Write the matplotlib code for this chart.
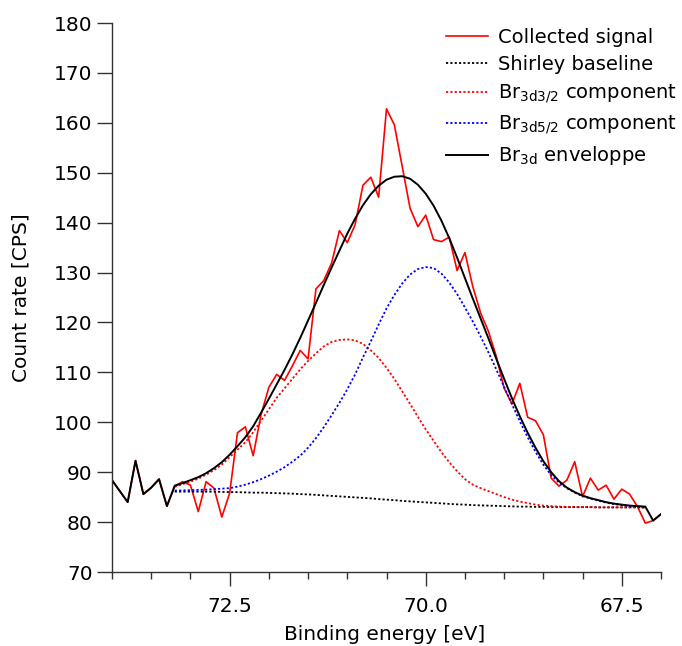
import numpy as np
import matplotlib
matplotlib.use("Agg")
import matplotlib.pyplot as plt
from matplotlib.ticker import FixedLocator, MultipleLocator, FormatStrFormatter

# Binding energy grid of the measured spectrum (eV), 74.0 -> 67.0
energy = [74.0, 73.9, 73.8, 73.7, 73.6, 73.5, 73.4, 73.3, 73.2, 73.1,
          73.0, 72.9, 72.8, 72.7, 72.6, 72.5, 72.4, 72.3, 72.2, 72.1,
          72.0, 71.9, 71.8, 71.7, 71.6, 71.5, 71.4, 71.3, 71.2, 71.1,
          71.0, 70.9, 70.8, 70.7, 70.6, 70.5, 70.4, 70.3, 70.2, 70.1,
          70.0, 69.9, 69.8, 69.7, 69.6, 69.5, 69.4, 69.3, 69.2, 69.1,
          69.0, 68.9, 68.8, 68.7, 68.6, 68.5, 68.4, 68.3, 68.2, 68.1,
          68.0, 67.9, 67.8, 67.7, 67.6, 67.5, 67.4, 67.3, 67.2, 67.1,
          67.0]

signal = [88.4, 86.2, 84.0, 92.3, 85.6, 86.9, 88.6, 83.2, 87.2, 88.1,
          87.4, 82.1, 88.1, 86.8, 81.0, 85.8, 97.9, 99.1, 93.3, 101.5,
          107.0, 109.6, 108.4, 111.3, 114.4, 112.7, 126.7, 128.4, 131.9, 138.4,
          136.0, 139.6, 147.5, 149.1, 145.1, 162.8, 159.6, 151.3, 142.9, 139.2,
          141.5, 136.6, 136.2, 137.1, 130.4, 134.0, 127.2, 121.9, 118.2, 113.2,
          106.8, 103.7, 107.8, 101.0, 100.3, 97.5, 88.8, 87.2, 88.4, 92.1,
          85.1, 88.8, 86.4, 87.4, 84.6, 86.6, 85.6, 83.1, 79.8, 80.3,
          81.6]

# Fit region 73.2 -> 67.2 eV
fit_energy = energy[8:69]

shirley = [86.1, 86.1, 86.1, 86.1, 86.1, 86.1, 86.05, 86.0, 86.0, 85.95,
           85.9, 85.9, 85.85, 85.8, 85.75, 85.7, 85.6, 85.55, 85.45, 85.35,
           85.25, 85.15, 85.05, 84.95, 84.85, 84.75, 84.6, 84.5, 84.4, 84.25,
           84.15, 84.05, 83.95, 83.85, 83.75, 83.65, 83.55, 83.5, 83.4, 83.35,
           83.3, 83.25, 83.2, 83.15, 83.1, 83.1, 83.05, 83.05, 83.0, 83.0,
           83.0, 83.0, 83.0, 83.0, 82.95, 82.95, 82.95, 82.95, 82.95, 82.95,
           82.9]

br_32 = [87.1, 87.6, 88.1, 88.7, 89.5, 90.4, 91.5, 93.0, 94.5, 96.0,
         98.0, 100.3, 102.6, 104.9, 106.8, 108.7, 110.6, 112.3, 113.8, 115.2,
         116.1, 116.5, 116.6, 116.4, 115.7, 114.4, 112.9, 110.9, 108.7, 106.2,
         103.7, 101.1, 98.6, 96.3, 94.0, 92.0, 90.2, 88.6, 87.5, 86.8,
         86.2, 85.6, 85.0, 84.5, 84.1, 83.8, 83.5, 83.3, 83.2, 83.1,
         83.05, 83.0, 83.0, 83.0, 82.95, 82.95, 82.95, 82.95, 82.95, 82.95,
         82.9]

br_52 = [86.3, 86.35, 86.4, 86.45, 86.5, 86.6, 86.7, 86.8, 87.1, 87.5,
         88.0, 88.6, 89.3, 90.1, 91.0, 92.1, 93.3, 94.9, 96.8, 99.0,
         101.4, 103.9, 106.6, 109.6, 113.0, 116.2, 119.6, 122.8, 125.5, 127.8,
         129.6, 130.7, 131.1, 130.9, 129.8, 128.0, 125.7, 123.0, 120.2, 117.2,
         114.0, 110.6, 107.1, 103.6, 100.2, 97.0, 94.1, 91.5, 89.4, 87.9,
         86.8, 85.9, 85.2, 84.7, 84.3, 83.9, 83.6, 83.4, 83.25, 83.1,
         83.0]

envelope_fit = [87.3, 87.8, 88.4, 89.0, 89.8, 90.8, 92.0, 93.5, 95.2, 97.0,
                99.2, 101.9, 104.7, 107.6, 110.5, 113.6, 116.9, 120.4, 123.9, 127.5,
                131.0, 134.4, 137.8, 140.8, 143.5, 145.7, 147.4, 148.6, 149.2, 149.3,
                148.8, 147.6, 145.8, 143.4, 140.4, 136.9, 133.0, 128.9, 124.8, 120.8,
                116.8, 112.7, 108.7, 104.8, 101.2, 97.9, 94.9, 92.2, 90.0, 88.2,
                86.9, 86.0, 85.3, 84.8, 84.4, 84.0, 83.7, 83.5, 83.3, 83.2,
                83.1]

# outside the fit window the envelope trace follows the raw data
env_energy = energy[:8] + fit_energy + energy[69:]
env_counts = signal[:8] + envelope_fit + signal[69:]

plt.rcParams['font.family'] = ['DejaVu Sans']

fig = plt.figure(figsize=(6.82, 6.46), dpi=100)
ax = fig.add_axes([112 / 682, 1 - 572 / 646, 549 / 682, 549 / 646])

dots = (0, (1.2, 1.2))
ax.plot(energy, signal, color='#ff0000', lw=1.2, label='Collected signal')
ax.plot(fit_energy, shirley, color='black', lw=1.3, linestyle=dots, label='Shirley baseline')
ax.plot(fit_energy, br_32, color='#ff0000', lw=1.3, linestyle=dots,
        label=r'Br$_{\mathregular{3d3/2}}$ component')
ax.plot(fit_energy, br_52, color='#0000ff', lw=1.3, linestyle=dots,
        label=r'Br$_{\mathregular{3d5/2}}$ component')
ax.plot(env_energy, env_counts, color='black', lw=1.4,
        label=r'Br$_{\mathregular{3d}}$ enveloppe')

ax.set_xlim(74.0, 67.0)
ax.set_ylim(70, 180)

ax.xaxis.set_major_locator(FixedLocator([72.5, 70.0, 67.5]))
ax.xaxis.set_major_formatter(FormatStrFormatter('%.1f'))
ax.xaxis.set_minor_locator(MultipleLocator(0.5))
ax.yaxis.set_major_locator(MultipleLocator(10))

for s in ['top', 'right']:
    ax.spines[s].set_visible(False)
for s in ['left', 'bottom']:
    ax.spines[s].set_color('#333333')
    ax.spines[s].set_linewidth(1.0)

ax.tick_params(axis='x', which='major', length=10, width=1.0, pad=8,
               labelsize=14.5, color='#333333')
ax.tick_params(axis='x', which='minor', length=5, width=1.0, color='#333333')
ax.tick_params(axis='y', which='major', length=11, width=1.0, pad=3,
               labelsize=14.5, color='#333333')

ax.set_xlabel('Binding energy [eV]', fontsize=14.5)
ax.set_ylabel('Count rate [CPS]', fontsize=14.5)
ax.xaxis.set_label_coords(0.497, -0.097)
ax.yaxis.set_label_coords(-0.148, 0.5)

ax.legend(loc='upper left', bbox_to_anchor=(0.608, 0.991), bbox_transform=ax.transAxes,
          frameon=False, fontsize=14, handlelength=2.15, handletextpad=0.55,
          labelspacing=0.42, borderpad=0, borderaxespad=0)

fig.savefig('out.png', dpi=100)
